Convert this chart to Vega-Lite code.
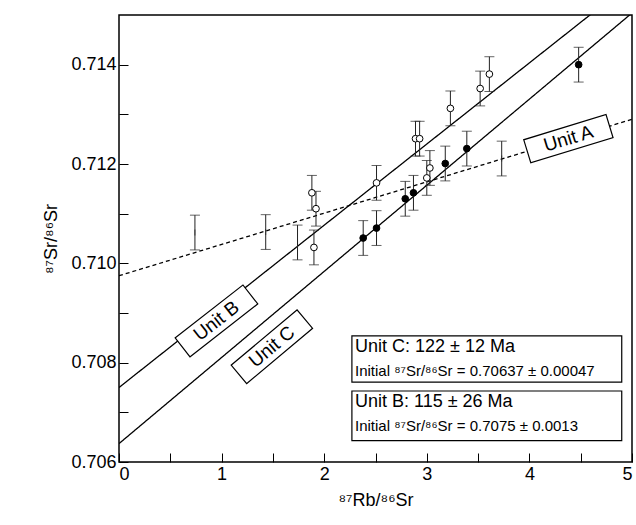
{
  "$schema": "https://vega.github.io/schema/vega-lite/v6.json",
  "width": 513,
  "height": 447,
  "padding": {"left": 42, "top": 15, "right": 0, "bottom": 5},
  "background": "white",
  "config": {
    "font": "Liberation Sans",
    "view": {"stroke": "black", "strokeWidth": 1.5},
    "axis": {"grid": false, "domain": false, "tickColor": "black", "tickSize": -9, "labelFontSize": 18, "labelColor": "black", "titleFontSize": 18, "titleFontWeight": "normal", "titleColor": "black", "labelPadding": 12}
  },
  "datasets": {
    "pts": [
      {"unit": "A", "x": 0.74, "y": 0.71062},
      {"unit": "A", "x": 1.43, "y": 0.71063},
      {"unit": "A", "x": 1.74, "y": 0.71042},
      {"unit": "A", "x": 3.73, "y": 0.71211},
      {"unit": "B", "x": 1.88, "y": 0.71142},
      {"unit": "B", "x": 1.92, "y": 0.7111},
      {"unit": "B", "x": 1.9, "y": 0.71032},
      {"unit": "B", "x": 2.51, "y": 0.71162},
      {"unit": "B", "x": 2.89, "y": 0.71251},
      {"unit": "B", "x": 2.93, "y": 0.71251},
      {"unit": "B", "x": 3.0, "y": 0.71172},
      {"unit": "B", "x": 3.03, "y": 0.71192},
      {"unit": "B", "x": 3.23, "y": 0.71312},
      {"unit": "B", "x": 3.52, "y": 0.71352},
      {"unit": "B", "x": 3.61, "y": 0.71381},
      {"unit": "C", "x": 2.38, "y": 0.71051},
      {"unit": "C", "x": 2.51, "y": 0.71071},
      {"unit": "C", "x": 2.79, "y": 0.7113},
      {"unit": "C", "x": 2.87, "y": 0.71142},
      {"unit": "C", "x": 3.18, "y": 0.71201},
      {"unit": "C", "x": 3.39, "y": 0.71231},
      {"unit": "C", "x": 4.48, "y": 0.714}
    ],
    "lines": [
      {"unit": "A", "x": 0, "y": 0.70975},
      {"unit": "A", "x": 5, "y": 0.7129},
      {"unit": "B", "x": 0, "y": 0.7075},
      {"unit": "B", "x": 5, "y": 0.71567},
      {"unit": "C", "x": 0, "y": 0.70637},
      {"unit": "C", "x": 5, "y": 0.71504}
    ],
    "labels": [
      {"text": "Unit B", "x": 0.95, "y": 0.70884, "angle": -38},
      {"text": "Unit C", "x": 1.49, "y": 0.70832, "angle": -40},
      {"text": "Unit A", "x": 4.38, "y": 0.71251, "angle": -17}
    ],
    "boxes": [
      {"x": 2.27, "x2": 4.9, "y": 0.70854, "y2": 0.70761},
      {"x": 2.27, "x2": 4.9, "y": 0.70743, "y2": 0.70643}
    ],
    "boxtext": [
      {"text": "Unit C: 122 ± 12 Ma", "x": 2.3, "y": 0.70832, "size": 18},
      {"text": "Initial ⁸⁷Sr/⁸⁶Sr = 0.70637 ± 0.00047", "x": 2.3, "y": 0.70784, "size": 15},
      {"text": "Unit B: 115 ± 26 Ma", "x": 2.3, "y": 0.70721, "size": 18},
      {"text": "Initial ⁸⁷Sr/⁸⁶Sr = 0.7075 ± 0.0013", "x": 2.3, "y": 0.70673, "size": 15}
    ]
  },
  "layer": [
    {
      "data": {"name": "lines"},
      "mark": {"type": "line", "color": "black", "strokeWidth": 1.3, "clip": true},
      "encoding": {
        "x": {"field": "x", "type": "quantitative", "scale": {"domain": [0, 5], "nice": false}, "title": "⁸⁷Rb/⁸⁶Sr", "axis": {"values": [0, 0.5, 1, 1.5, 2, 2.5, 3, 3.5, 4, 4.5, 5], "labelExpr": "datum.value % 1 === 0 ? format(datum.value, 'd') : ''", "titlePadding": 8}},
        "y": {"field": "y", "type": "quantitative", "scale": {"domain": [0.706, 0.715], "nice": false, "zero": false}, "title": "⁸⁷Sr/⁸⁶Sr", "axis": {"values": [0.706, 0.707, 0.708, 0.709, 0.71, 0.711, 0.712, 0.713, 0.714], "format": ".3f", "labelExpr": "round(datum.value*1000) % 2 === 0 ? datum.label : ''", "titlePadding": 10}},
        "detail": {"field": "unit"},
        "strokeDash": {"field": "unit", "type": "nominal", "scale": {"domain": ["A", "B", "C"], "range": [[4, 3], [1, 0], [1, 0]]}, "legend": null}
      }
    },
    {
      "data": {"name": "pts"},
      "transform": [{"calculate": "datum.y - 0.00035", "as": "lo"}, {"calculate": "datum.y + 0.00035", "as": "hi"}],
      "layer": [
        {"mark": {"type": "rule", "color": "#222", "strokeWidth": 1}, "encoding": {"x": {"field": "x", "type": "quantitative"}, "y": {"field": "lo", "type": "quantitative"}, "y2": {"field": "hi"}}},
        {"mark": {"type": "tick", "color": "#222", "thickness": 1, "size": 10, "orient": "horizontal"}, "encoding": {"x": {"field": "x", "type": "quantitative"}, "y": {"field": "lo", "type": "quantitative"}}},
        {"mark": {"type": "tick", "color": "#222", "thickness": 1, "size": 10, "orient": "horizontal"}, "encoding": {"x": {"field": "x", "type": "quantitative"}, "y": {"field": "hi", "type": "quantitative"}}},
        {"mark": {"type": "tick", "color": "#222", "thickness": 1, "size": 6, "orient": "vertical"}, "encoding": {"x": {"field": "x", "type": "quantitative"}, "y": {"field": "y", "type": "quantitative"}}},
        {"transform": [{"filter": "datum.unit !== 'A'"}], "mark": {"type": "point", "shape": "circle", "size": 45, "stroke": "black", "strokeWidth": 1, "opacity": 1},
         "encoding": {"x": {"field": "x", "type": "quantitative"}, "y": {"field": "y", "type": "quantitative"},
           "fill": {"field": "unit", "type": "nominal", "scale": {"domain": ["B", "C"], "range": ["white", "black"]}, "legend": null}}}
      ]
    },
    {
      "data": {"name": "labels"},
      "mark": {"type": "point", "shape": "M-1,-0.28L1,-0.28L1,0.28L-1,0.28Z", "size": 7400, "fill": "white", "stroke": "black", "strokeWidth": 1.2, "opacity": 1, "filled": false},
      "encoding": {"x": {"field": "x", "type": "quantitative"}, "y": {"field": "y", "type": "quantitative"}, "angle": {"field": "angle", "type": "quantitative", "scale": null}}
    },
    {
      "data": {"name": "labels"},
      "mark": {"type": "text", "fontSize": 19, "align": "center", "baseline": "middle"},
      "encoding": {"x": {"field": "x", "type": "quantitative"}, "y": {"field": "y", "type": "quantitative"}, "text": {"field": "text"}, "angle": {"field": "angle", "type": "quantitative", "scale": null}}
    },
    {
      "data": {"name": "boxes"},
      "mark": {"type": "rect", "fill": "white", "stroke": "black", "strokeWidth": 1.2},
      "encoding": {"x": {"field": "x", "type": "quantitative"}, "x2": {"field": "x2"}, "y": {"field": "y", "type": "quantitative"}, "y2": {"field": "y2"}}
    },
    {
      "data": {"name": "boxtext"},
      "mark": {"type": "text", "align": "left", "baseline": "middle"},
      "encoding": {"x": {"field": "x", "type": "quantitative"}, "y": {"field": "y", "type": "quantitative"}, "text": {"field": "text"}, "size": {"field": "size", "type": "quantitative", "scale": null}}
    }
  ]
}
